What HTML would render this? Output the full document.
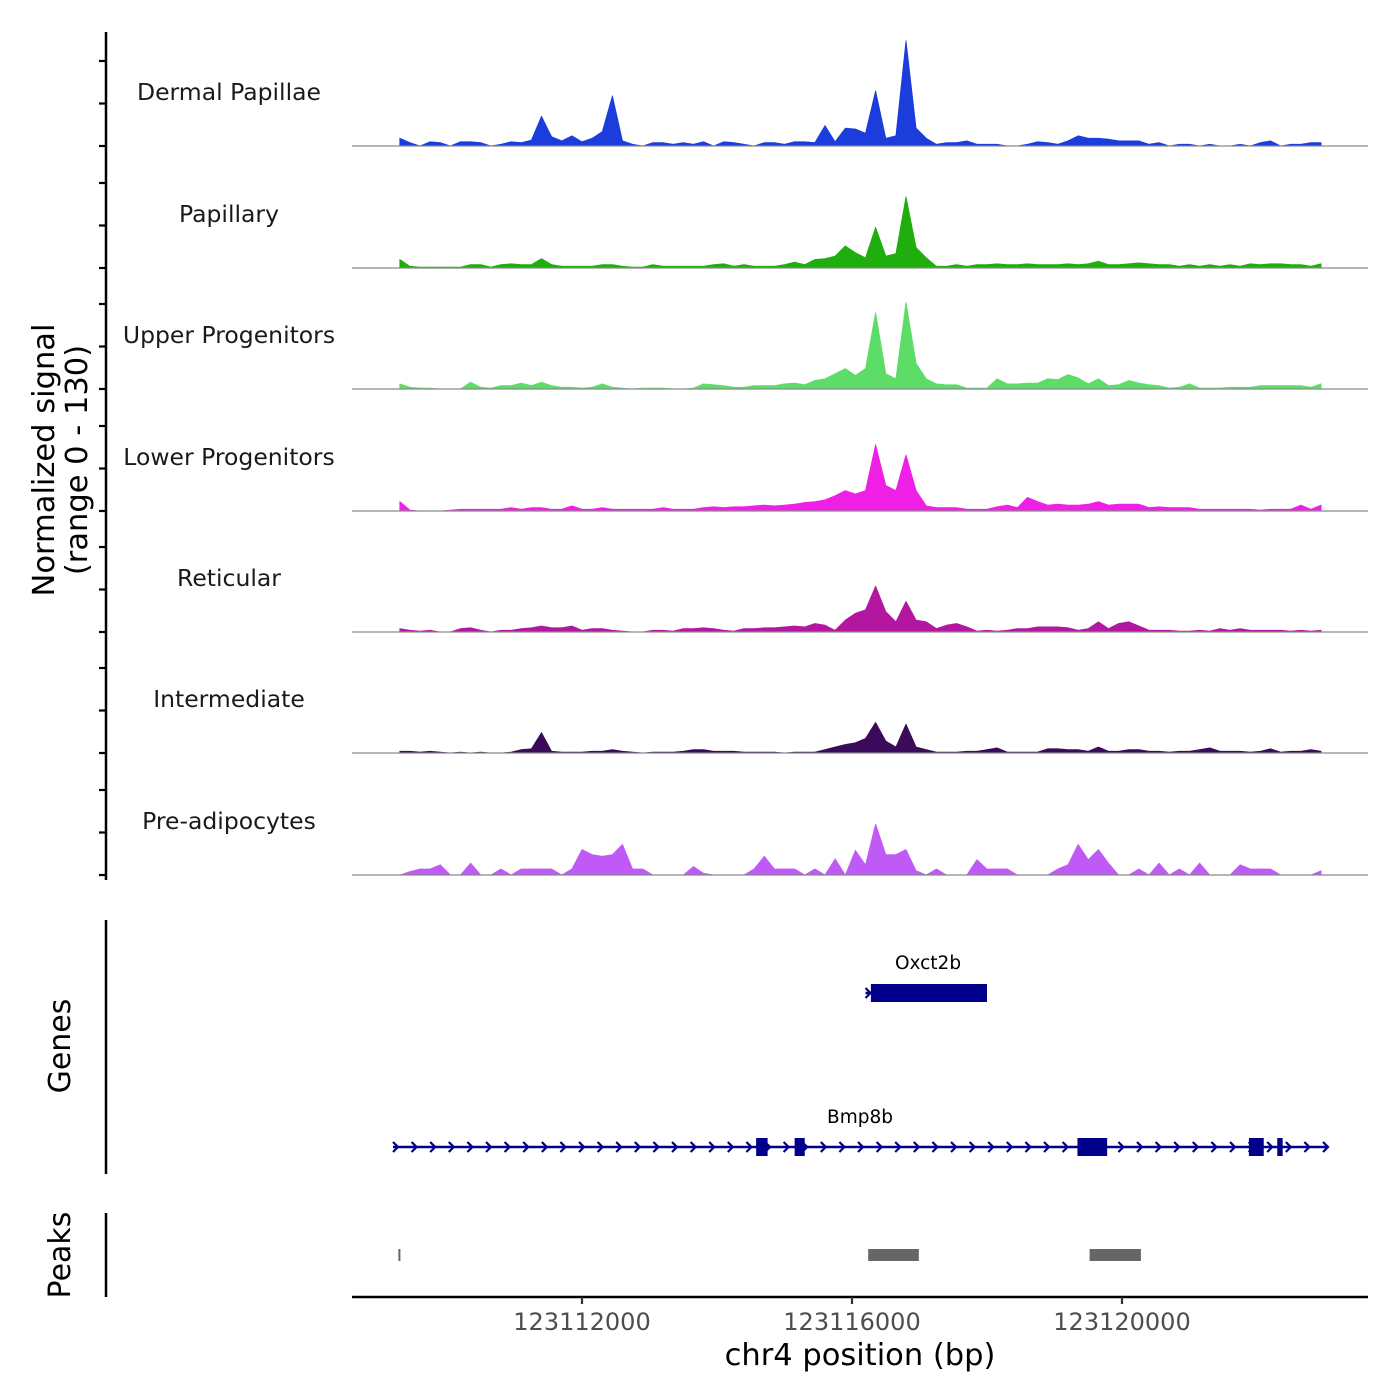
<!DOCTYPE html>
<html><head><meta charset="utf-8"><title>Coverage plot</title>
<style>
html,body{margin:0;padding:0;background:#fff;}
svg{display:block;font-family:"DejaVu Sans","Liberation Sans",sans-serif;}
</style></head>
<body>
<svg id="chart" width="1400" height="1400" viewBox="0 0 1400 1400" xmlns="http://www.w3.org/2000/svg">
<rect x="0" y="0" width="1400" height="1400" fill="#fff"/>
<g id="tracks"></g>
<g id="yaxis"></g>
<text transform="translate(54,460) rotate(-90)" text-anchor="middle" font-size="30.5" fill="#000">Normalized signal</text>
<text transform="translate(87,460) rotate(-90)" text-anchor="middle" font-size="30.5" fill="#000">(range 0 - 130)</text>
<line x1="106" y1="920" x2="106" y2="1174" stroke="#000" stroke-width="2.5"/>
<text transform="translate(70,1046) rotate(-90)" text-anchor="middle" font-size="30" fill="#000">Genes</text>
<g id="genes"></g>
<line x1="106" y1="1213" x2="106" y2="1297" stroke="#000" stroke-width="2.5"/>
<text transform="translate(70,1255) rotate(-90)" text-anchor="middle" font-size="30" fill="#000">Peaks</text>
<g id="peaks"></g>
<g id="xaxis"></g>
<text x="860" y="1365" text-anchor="middle" font-size="30.5" fill="#000">chr4 position (bp)</text>
</svg>
<script>
const binStart = 123109300;
const binStep = 150;
const trackNames = ["Dermal Papillae","Papillary","Upper Progenitors","Lower Progenitors","Reticular","Intermediate","Pre-adipocytes"];
const trackColors = ["#1a3ddb","#1fae0d","#5ddd68","#f01fe6","#b3169f","#3b0a5a","#c05af7"];
const dermalPapillae = [9,4,0,5,4,0,5,5,4,0,2,5,4,7,35,11,6,12,5,9,17,59,6,2,0,4,4,2,4,2,5,0,5,4,2,0,4,4,2,5,5,4,24,5,21,20,15,65,9,12,124,21,9,2,4,4,6,2,2,2,0,0,2,5,4,2,6,12,9,9,8,6,6,6,2,4,0,2,2,0,2,0,0,2,0,4,6,0,2,2,4,4];
const papillary = [10,2,1,1,1,1,1,4,4,1,4,5,4,4,11,4,2,2,2,2,4,4,2,1,1,4,2,2,2,2,2,4,5,2,4,2,2,2,4,7,4,10,11,14,26,18,12,48,14,17,84,24,12,2,2,4,2,4,4,5,4,4,5,4,4,4,5,4,5,8,4,4,5,6,5,4,4,2,4,2,4,2,4,2,5,4,5,5,4,4,2,5];
const upperProgenitors = [6,2,1,1,0,0,0,8,2,1,4,4,7,4,8,4,2,2,1,2,6,2,1,0,1,1,1,0,0,1,6,5,4,2,2,4,4,4,6,7,5,10,12,18,24,16,24,90,18,12,102,30,12,6,5,5,1,1,1,12,6,6,7,7,12,11,17,13,6,12,4,5,10,7,5,4,1,2,6,1,1,1,2,2,2,4,4,4,4,4,2,6];
const lowerProgenitors = [11,1,0,0,0,1,2,2,2,2,2,4,2,4,4,2,2,6,2,2,4,2,2,2,2,2,4,2,2,2,4,5,4,5,5,6,7,6,7,8,10,11,13,18,24,20,24,78,30,24,66,24,6,4,4,4,2,2,2,5,7,4,16,11,7,8,7,7,8,11,7,8,8,8,4,5,4,4,4,2,2,2,2,2,2,1,2,2,2,7,2,7];
const reticular = [4,2,1,2,0,0,4,5,2,0,2,2,4,5,7,5,5,7,2,4,4,2,1,0,0,2,2,1,4,4,5,4,2,1,4,4,5,5,6,7,6,10,8,2,14,22,26,54,24,12,36,14,12,4,8,10,6,1,2,1,2,4,4,6,6,6,5,2,4,12,4,10,12,7,2,2,2,1,1,2,1,4,2,4,2,2,2,2,1,2,1,2];
const intermediate = [2,2,1,2,1,0,1,0,1,0,0,1,4,5,24,2,1,1,1,2,2,4,2,1,0,1,1,1,2,4,4,2,2,2,1,1,1,1,0,1,1,1,4,7,10,12,17,36,14,7,34,7,4,1,1,1,2,2,4,6,1,1,1,1,5,5,4,4,2,7,2,2,4,4,2,2,1,2,2,4,6,2,2,2,1,2,5,1,2,2,4,2];
const preAdipocytes = [0,4,7,7,12,0,0,14,0,0,7,0,7,7,7,7,0,7,30,24,22,24,36,7,7,0,0,0,0,10,2,0,0,0,0,7,22,7,7,7,0,7,0,19,0,29,12,60,24,24,30,5,0,7,0,0,0,18,7,7,7,0,0,0,0,7,12,36,18,30,14,0,0,7,0,14,0,7,0,14,0,0,0,12,7,7,7,0,0,0,0,5];
const yTicks = [0,50,100];
const xTicks = [123112000,123116000,123120000];
const xTickLabels = ["123112000","123116000","123120000"];
const geneNames = ["Oxct2b","Bmp8b"];
const geneStarts = [123116200,123109200];
const geneEnds = [123118000,123123050];
const exonStarts = [[123116280],[123114580,123115150,123119340,123121880,123122300]];
const exonEnds = [[123118000],[123114750,123115300,123119780,123122100,123122380]];
const peakStarts = [123109280,123116240,123119520];
const peakEnds = [123109310,123116990,123120280];

const NS = "http://www.w3.org/2000/svg";
const series = [dermalPapillae,papillary,upperProgenitors,lowerProgenitors,reticular,intermediate,preAdipocytes];
const baselines = [146,268,389,511,632,753,875];
function xScale(bp){ return 582 + (bp - 123112000) * (852 - 582) / 4000; }
function yScale(v, base){ return base - v * 0.85; }
function mk(tag, attrs, parent){ const e = document.createElementNS(NS, tag); for (const k in attrs) e.setAttribute(k, attrs[k]); parent.appendChild(e); return e; }

const tracksG = document.getElementById("tracks");
const yAxisG = document.getElementById("yaxis");
const axLine = mk("line", {x1:106,y1:32,x2:106,y2:880,stroke:"#000","stroke-width":2.5}, yAxisG);


series.forEach((vals, t) => {
  const base = baselines[t];
  const g = mk("g", {}, tracksG);
  
  
  let d = "M" + xScale(binStart).toFixed(1) + "," + base;
  vals.forEach((v, i) => { d += " L" + xScale(binStart + i * binStep).toFixed(1) + "," + yScale(v, base).toFixed(1); });
  d += " L" + xScale(binStart + (vals.length - 1) * binStep).toFixed(1) + "," + base + " Z";
  const area = mk("path", {d:d, fill:trackColors[t], stroke:trackColors[t], "stroke-width":0.8, "stroke-linejoin":"round"}, g);
  
  
  const bl = mk("line", {x1:352,y1:base,x2:1368,y2:base,stroke:"#8a8a8a","stroke-width":1.2}, g);
  
  
  const lab = mk("text", {x:229, y:base - 46, "text-anchor":"middle", "font-size":23.5, fill:"#1a1a1a"}, g);
  lab.textContent = trackNames[t];
  
  
  yTicks.forEach(tv => {
    const tk = mk("line", {x1:99, y1:yScale(tv, base), x2:106, y2:yScale(tv, base), stroke:"#000", "stroke-width":2.2}, yAxisG);
    
    
  });
});

const genesG = document.getElementById("genes");
const geneY = [993, 1147];
const geneCol = "#00008b";
geneNames.forEach((name, gi) => {
  const g = mk("g", {}, genesG);
  
  
  const y = geneY[gi];
  const x1 = xScale(geneStarts[gi]), x2 = xScale(geneEnds[gi]);
  const ln = mk("line", {x1:x1, y1:y, x2:x2, y2:y, stroke:geneCol, "stroke-width":2.5}, g);
  
  
  for (let cx = x1 + 3; cx <= x2; cx += 18.6) {
    const ch = mk("path", {d:"M" + (cx-3) + "," + (y-5) + " L" + (cx+2) + "," + y + " L" + (cx-3) + "," + (y+5), fill:"none", stroke:geneCol, "stroke-width":2.2}, g);
    
    
  }
  exonStarts[gi].forEach((s, k) => {
    const ex = mk("rect", {x:xScale(s), y:y-9, width:xScale(exonEnds[gi][k]) - xScale(s), height:18, fill:geneCol}, g);
    
    
  });
  const gl = mk("text", {x:(gi === 0 ? 928 : 860), y:y - 24, "text-anchor":"middle", "font-size":18.5, fill:"#000"}, g);
  gl.textContent = name;
  
  
});

const peaksG = document.getElementById("peaks");
peakStarts.forEach((s, i) => {
  const w = Math.max(2, xScale(peakEnds[i]) - xScale(s));
  const r = mk("rect", {x:xScale(s), y:1249, width:w, height:12, fill:"#666"}, peaksG);
  
  
});

const xG = document.getElementById("xaxis");
const xl = mk("line", {x1:352, y1:1297, x2:1368, y2:1297, stroke:"#000", "stroke-width":2.5}, xG);


xTicks.forEach((v, i) => {
  const tk = mk("line", {x1:xScale(v), y1:1297, x2:xScale(v), y2:1304, stroke:"#333", "stroke-width":2.2}, xG);
  
  
  const tl = mk("text", {x:xScale(v), y:1330, "text-anchor":"middle", "font-size":24, fill:"#4d4d4d"}, xG);
  tl.textContent = xTickLabels[i];
  
  
});
</script>
</body></html>
